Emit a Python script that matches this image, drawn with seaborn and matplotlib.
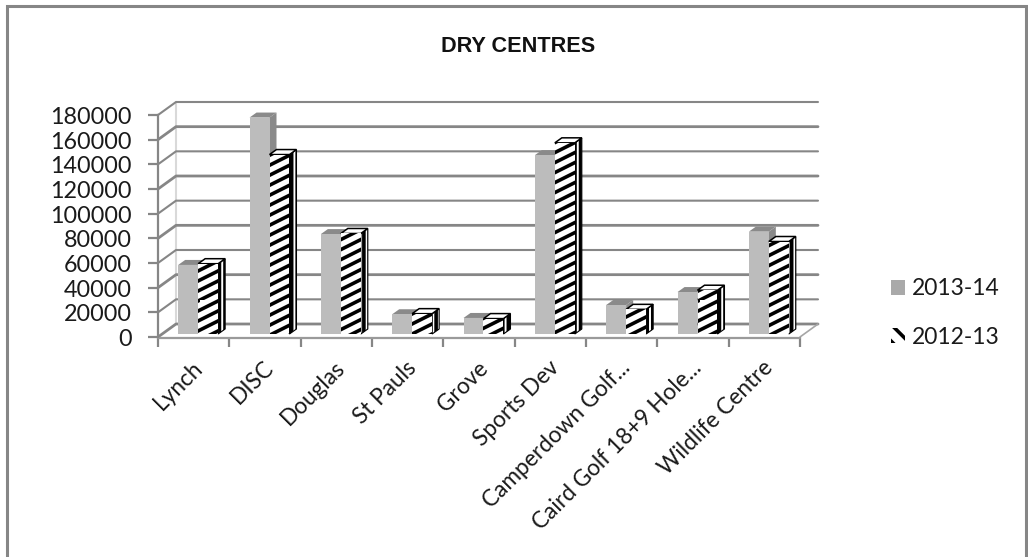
import matplotlib
matplotlib.use("Agg")
import matplotlib.pyplot as plt
import matplotlib.hatch as mhatch
from matplotlib.lines import Line2D
from matplotlib.patches import Patch, Polygon, Rectangle
from matplotlib.path import Path
from matplotlib.transforms import Affine2D
import numpy as np
import pandas as pd
import seaborn as sns

categories = ["Lynch", "DISC", "Douglas", "St Pauls", "Grove", "Sports Dev",
              "Camperdown Golf...", "Caird Golf 18+9 Hole...", "Wildlife Centre"]
values_1314 = [56000, 175500, 81000, 16000, 13000, 145000, 23500, 34000, 83000]
values_1213 = [57000, 145500, 81500, 16500, 12500, 155000, 20000, 35500, 75000]
series_names = ["2013-14", "2012-13"]
y_ticks = list(range(0, 180001, 20000))
title_text = "DRY CENTRES"

W, H = 1028, 557
GREY = "#868686"
BAR_GREY = "#bcbcbc"


class ShallowStripe(mhatch.HatchPatternBase):
    """Stripes with slope 1/2, as in the reference's wide upward diagonal fill."""
    def __init__(self, hatch, density):
        self.n = hatch.count("/")
        self.num_lines = 16 if self.n else 0
        self.num_vertices = self.num_lines * 2

    def set_vertices_and_codes(self, vertices, codes):
        for i, k in enumerate(range(-6, 10)):
            vertices[2 * i] = (0.0, k / 10)
            vertices[2 * i + 1] = (1.0, k / 10 + 0.5)
            codes[2 * i] = Path.MOVETO
            codes[2 * i + 1] = Path.LINETO


mhatch._hatch_types[mhatch._hatch_types.index(mhatch.NorthEastHatch)] = ShallowStripe

sns.set_theme(style="white")
plt.rcParams["font.family"] = ["Lato", "DejaVu Sans"]
plt.rcParams["hatch.linewidth"] = 2.6

df = pd.DataFrame({
    "centre": categories * 2,
    "value": values_1314 + values_1213,
    "year": [series_names[0]] * len(categories) + [series_names[1]] * len(categories),
})

fig = plt.figure(figsize=(W / 100, H / 100), dpi=100)
ax = fig.add_axes([158 / W, 1 - 337 / H, 642 / W, 222 / H])
ax.patch.set_visible(False)

sns.barplot(data=df, x="centre", y="value", hue="year", hue_order=series_names,
            order=categories, width=0.56, gap=0, legend=False, ax=ax,
            palette=[BAR_GREY, "white"], saturation=1)
ax.set_xlim(-0.5, len(categories) - 0.5)
ax.set_ylim(0, 180000)
ax.set_xlabel("")
ax.set_ylabel("")


def px(x, y):
    return ax.transData.transform((x, y))


# Back wall, left wall and floor, offset from the front plane in pixels
WX, WY = 18, 13
x0, x1 = -0.5, len(categories) - 0.5
for t in y_ticks:
    a, b = px(x0, t), px(x1, t)
    lw = 2.0 if t % 40000 == 0 else 1.5
    ax.add_line(Line2D([a[0], a[0] + WX, b[0] + WX], [a[1], a[1] + WY, b[1] + WY],
                       color=GREY, lw=lw, transform=None, zorder=1, clip_on=False))
a, b = px(x0, 0), px(x1, 0)
top = px(x0, 180000)
ax.add_line(Line2D([a[0] + WX] * 2, [a[1] + WY, top[1] + WY], color="#d9d9d9", lw=1.5,
                   transform=None, zorder=0.9, clip_on=False))
ax.add_line(Line2D([a[0], b[0]], [a[1] - 1, b[1] - 1], color="#9a9a9a", lw=1.6,
                   transform=None, zorder=2.5, clip_on=False))
ax.add_line(Line2D([b[0], b[0] + WX], [b[1], b[1] + WY], color="#a6a6a6", lw=1.2,
                   transform=None, zorder=1.1, clip_on=False))

# Bars with drawn depth
BX, BY = 4.5, 3
DX, DY = 7, 5
shift = ax.transData + Affine2D().translate(BX, BY)
for idx, container in enumerate(ax.containers):
    z = 3 + idx
    for bar in container:
        bar.set_transform(shift)
        bar.set_clip_on(False)
        bar.set_zorder(z + 0.1)
        bar.set_linewidth(0)
        l, b0 = px(bar.get_x(), 0)
        r, t0 = px(bar.get_x() + bar.get_width(), bar.get_height())
        l, r, b0, t0 = l + BX, r + BX, b0 + BY, t0 + BY
        side = [(r, b0), (r, t0), (r + DX, t0 + DY), (r + DX, b0 + DY)]
        cap = [(l, t0), (r, t0), (r + DX, t0 + DY), (l + DX, t0 + DY)]
        if idx == 0:
            bar.set_facecolor(BAR_GREY)
            kw = dict(facecolor="#8a8a8a", edgecolor="none")
            ax.add_patch(Polygon(side, transform=None, clip_on=False, zorder=z, **kw))
            ax.add_patch(Polygon(cap, transform=None, clip_on=False, zorder=z, **kw))
        else:
            bar.set_facecolor("white")
            bar.set_edgecolor("black")
            bar.set_hatch("/")
            ax.add_patch(Polygon(side, transform=None, clip_on=False, zorder=z, facecolor="white",
                                 edgecolor="black", linewidth=0.8, hatch="|||"))
            ax.add_patch(Polygon(cap, transform=None, clip_on=False, zorder=z, facecolor="white",
                                 edgecolor="black", linewidth=1.1))

# Axes, ticks and labels
for name, spine in ax.spines.items():
    spine.set_visible(name == "left")
    spine.set_color(GREY)
    spine.set_linewidth(1.6)
ax.set_yticks(y_ticks)
ax.set_yticklabels([str(t) for t in y_ticks], va="center")
ax.tick_params(axis="y", which="major", left=True, length=7.2, width=1.6, color=GREY,
               pad=11, labelsize=16.8, labelcolor="#1a1a1a")
for lab in ax.get_yticklabels():
    lab.set_transform(lab.get_transform() + Affine2D().translate(-1, -2.5))
ax.set_xticks(np.arange(-0.5, len(categories) + 0.5), minor=True)
ax.set_xticks(np.arange(len(categories)))
ax.set_xticklabels(categories, rotation=45, ha="right", rotation_mode="anchor")
ax.tick_params(axis="x", which="major", bottom=False, length=0, pad=14.6, labelsize=16.3,
               labelcolor="#1a1a1a")
ax.tick_params(axis="x", which="minor", bottom=True, length=7.2, width=1.6, color=GREY)
for lab in ax.get_xticklabels():
    lab.set_transform(lab.get_transform() + Affine2D().translate(-2, 0))

# Legend
handles = [Patch(facecolor="#a9a9a9", edgecolor="none", label=series_names[0]),
           Patch(facecolor="white", edgecolor="black", linewidth=0, hatch="\\\\",
                 label=series_names[1])]
fig.legend(handles=handles, loc="center left", bbox_to_anchor=(891 / W, 1 - 313 / H),
           frameon=False, fontsize=16.5, handlelength=0.62, handleheight=0.62,
           handletextpad=0.3, labelspacing=1.18, labelcolor="#1a1a1a", borderpad=0,
           borderaxespad=0)

# Title and chart frame
fig.text(518 / W, 1 - 46 / H, title_text, ha="center", va="center", fontsize=15.6,
         fontweight="bold", color="#111111", family="Liberation Sans")
fig.add_artist(Rectangle((6.5 / W, -0.02), (1026 - 6.5) / W, 1.02 - 5.5 / H, fill=False,
                         edgecolor=GREY, linewidth=2.2, transform=fig.transFigure))

fig.savefig("out.png", dpi=100)
